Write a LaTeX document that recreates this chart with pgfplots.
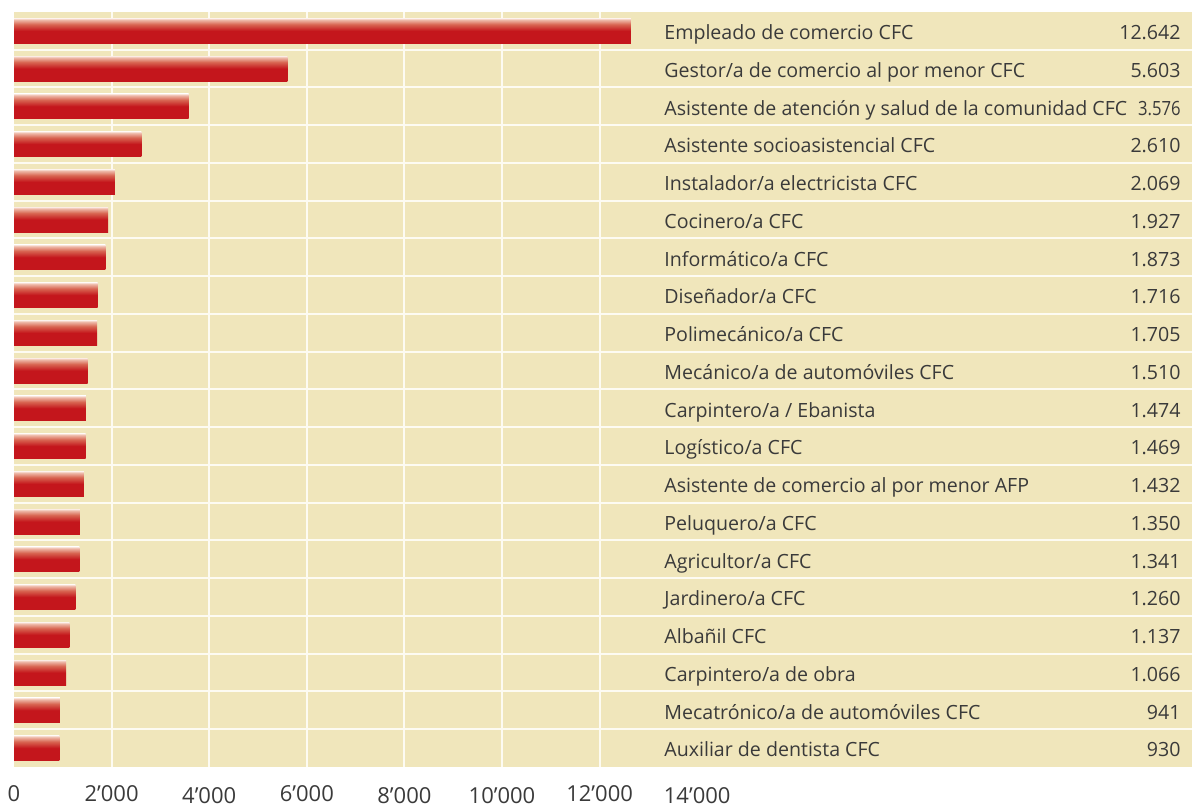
\documentclass[border=0pt]{standalone}
\usepackage{pgfplots}
\pgfplotsset{compat=1.18}
\usepackage{pgfplotstable}
\usepackage{fontspec}
\setmainfont{Open Sans}

\definecolor{beige}{HTML}{F0E6BB}
\definecolor{gridwhite}{HTML}{FDFBF2}
\definecolor{txt}{HTML}{3A3A3A}
\definecolor{barred}{HTML}{C4161C}
\definecolor{barmid}{HTML}{D86652}
\definecolor{barlight}{HTML}{EEB9A8}
\definecolor{bartop}{HTML}{FAE8E0}

% red bar, light at the top edge
\pgfdeclareverticalshading{barshade}{100bp}{color(0bp)=(barred); color(25bp)=(barred);
  color(50bp)=(barred); color(63bp)=(barmid); color(72bp)=(barlight);
  color(75bp)=(bartop); color(100bp)=(bartop)}

\pgfplotstableread[col sep=semicolon]{
pos;count;shown;name
0;930;930;Auxiliar de dentista CFC
1;941;941;Mecatrónico/a de automóviles CFC
2;1066;1.066;Carpintero/a de obra
3;1137;1.137;Albañil CFC
4;1260;1.260;Jardinero/a CFC
5;1341;1.341;Agricultor/a CFC
6;1350;1.350;Peluquero/a CFC
7;1432;1.432;Asistente de comercio al por menor AFP
8;1469;1.469;Logístico/a CFC
9;1474;1.474;Carpintero/a / Ebanista
10;1510;1.510;Mecánico/a de automóviles CFC
11;1705;1.705;Polimecánico/a CFC
12;1716;1.716;Diseñador/a CFC
13;1873;1.873;Informático/a CFC
14;1927;1.927;Cocinero/a CFC
15;2069;2.069;Instalador/a electricista CFC
16;2610;2.610;Asistente socioasistencial CFC
17;3576;\scalebox{0.85}[1]{3.576};Asistente de atención y salud de la comunidad CFC
18;5603;5.603;Gestor/a de comercio al por menor CFC
19;12642;12.642;Empleado de comercio CFC
}\data

\begin{document}
\begin{tikzpicture}
\begin{axis}[
    width=589pt, height=377.5pt, scale only axis,
    xmin=0, xmax=24140, ymin=-0.5, ymax=19.5,
    axis line style={draw=none},
    tick style={draw=none},
    axis background/.style={fill=beige},
    xtick={0,2000,...,14000},
    xticklabels={\raisebox{1pt}{0},\raisebox{1pt}{2’000},4’000,\raisebox{1pt}{6’000},
                 8’000,10’000,\raisebox{1pt}{12’000},14’000},
    xticklabel style={font=\fontsize{11}{13}\selectfont, text=txt,
                      anchor=base, inner sep=0pt, yshift=-18.5pt},
    extra x ticks={2000,4000,...,12000},
    extra x tick style={grid=major, xticklabel=\empty},
    ytick={0.5,1.5,...,18.5},
    yticklabel=\empty,
    ymajorgrids,
    grid style={gridwhite, line width=1pt},
  ]
% one plot per bar, so that each bar gets its own shading
\pgfplotsinvokeforeach{0,...,19}{
  \addplot[xbar, bar shift=0pt, bar width=0.662, draw=none, shading=barshade,
    y filter/.expression={abs(y-#1)<0.2 ? y : nan}]
    table[x=count, y=pos] {\data};
}
\addplot[draw=none, nodes near coords, point meta=explicit symbolic,
  nodes near coords style={anchor=base west, inner sep=0pt, yshift=-4.4pt,
    font=\fontsize{9.8}{12}\selectfont, text=txt}]
  table[x expr=13320, y=pos, meta=name] {\data};
\addplot[draw=none, nodes near coords, point meta=explicit symbolic,
  nodes near coords style={anchor=base east, inner sep=0pt, yshift=-4.4pt,
    font=\fontsize{9.8}{12}\selectfont, text=txt}]
  table[x expr=23914, y=pos, meta=shown] {\data};
\coordinate (tl) at (rel axis cs:0,1);
\coordinate (br) at (rel axis cs:1,0);
\end{axis}
\pgfresetboundingbox
\path[use as bounding box] ([shift={(-7pt,6pt)}]tl) rectangle ([shift={(0pt,-20pt)}]br);
\end{tikzpicture}
\end{document}
